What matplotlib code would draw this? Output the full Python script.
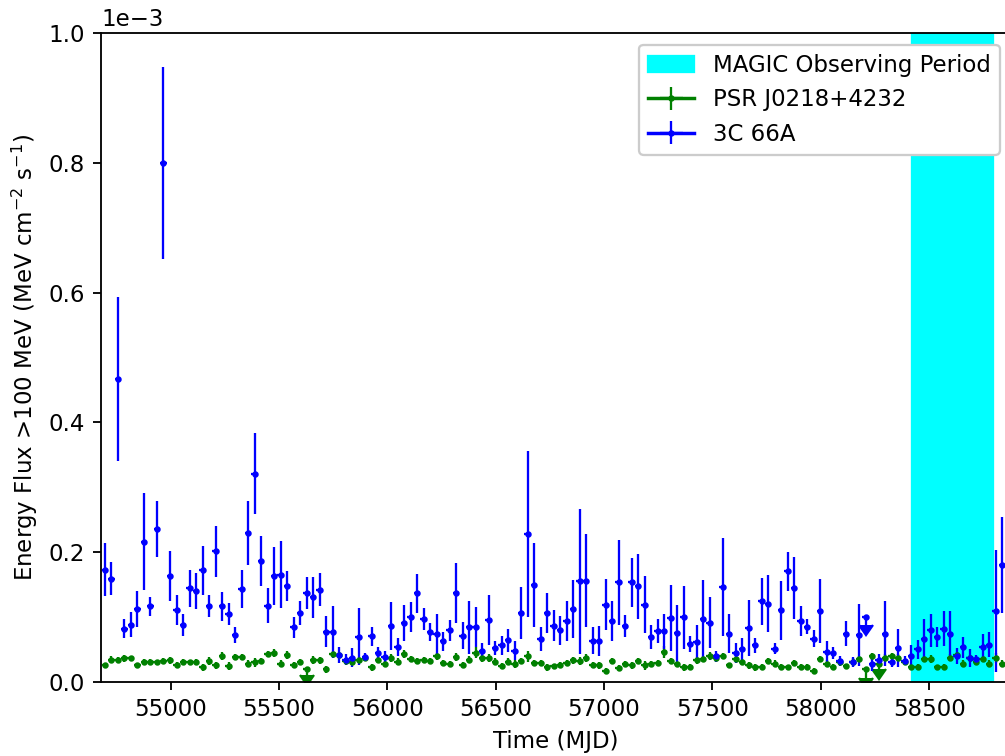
import numpy as np
import matplotlib
matplotlib.use("Agg")
import matplotlib.pyplot as plt

# 30 day bins (MJD of bin centre)
mjd = [54697, 54727, 54757, 54787, 54817, 54847, 54877, 54907, 54937, 54967,
       54997, 55027, 55057, 55087, 55117, 55147, 55177, 55207, 55237, 55267,
       55297, 55327, 55357, 55387, 55417, 55447, 55477, 55507, 55537, 55567,
       55597, 55627, 55657, 55687, 55717, 55747, 55777, 55807, 55837, 55867,
       55897, 55927, 55957, 55987, 56017, 56047, 56077, 56107, 56137, 56167,
       56197, 56227, 56257, 56287, 56317, 56347, 56377, 56407, 56437, 56467,
       56497, 56527, 56557, 56587, 56617, 56647, 56677, 56707, 56737, 56767,
       56797, 56827, 56857, 56887, 56917, 56947, 56977, 57007, 57037, 57067,
       57097, 57127, 57157, 57187, 57217, 57247, 57277, 57307, 57337, 57367,
       57397, 57427, 57457, 57487, 57517, 57547, 57577, 57607, 57637, 57667,
       57697, 57727, 57757, 57787, 57817, 57847, 57877, 57907, 57937, 57967,
       57997, 58027, 58057, 58087, 58117, 58147, 58177, 58207, 58237, 58267,
       58297, 58327, 58357, 58387, 58417, 58447, 58477, 58507, 58537, 58567,
       58597, 58627, 58657, 58687, 58717, 58747, 58777, 58807, 58837]
halfBin = 15  # days

# 3C 66A energy flux (1e-3 MeV cm-2 s-1) and 1 sigma errors
flux3c = [0.173, 0.159, 0.467, 0.082, 0.088, 0.112, 0.216, 0.116, 0.236, 0.800,
          0.163, 0.111, 0.087, 0.144, 0.140, 0.172, 0.117, 0.201, 0.116, 0.105,
          0.072, 0.143, 0.229, 0.321, 0.186, 0.117, 0.163, 0.165, 0.147, 0.084,
          0.106, 0.137, 0.130, 0.142, 0.077, 0.077, 0.041, 0.034, 0.037, 0.069,
          0.038, 0.070, 0.044, 0.038, 0.086, 0.053, 0.091, 0.100, 0.136, 0.096,
          0.076, 0.073, 0.062, 0.079, 0.137, 0.071, 0.084, 0.084, 0.048, 0.095,
          0.052, 0.056, 0.064, 0.048, 0.106, 0.227, 0.149, 0.066, 0.106, 0.086,
          0.079, 0.094, 0.112, 0.155, 0.156, 0.063, 0.063, 0.119, 0.094, 0.153,
          0.086, 0.153, 0.147, 0.119, 0.069, 0.078, 0.078, 0.098, 0.075, 0.099,
          0.058, 0.061, 0.097, 0.091, 0.039, 0.146, 0.074, 0.044, 0.050, 0.083,
          0.056, 0.124, 0.120, 0.051, 0.110, 0.170, 0.144, 0.094, 0.085, 0.066,
          0.109, 0.046, 0.044, 0.032, 0.074, 0.030, 0.072, 0.100, 0.028, 0.033,
          0.074, 0.031, 0.052, 0.032, 0.040, 0.050, 0.066, 0.079, 0.069, 0.082,
          0.074, 0.040, 0.053, 0.037, 0.035, 0.054, 0.057, 0.109, 0.180]
err3c = [0.041, 0.025, 0.127, 0.015, 0.019, 0.028, 0.075, 0.015, 0.043, 0.148,
         0.039, 0.023, 0.017, 0.029, 0.028, 0.038, 0.017, 0.039, 0.022, 0.017,
         0.012, 0.029, 0.049, 0.062, 0.039, 0.027, 0.045, 0.052, 0.023, 0.016,
         0.019, 0.025, 0.032, 0.026, 0.024, 0.040, 0.012, 0.009, 0.015, 0.044,
         0.006, 0.015, 0.009, 0.009, 0.037, 0.014, 0.028, 0.023, 0.030, 0.017,
         0.014, 0.031, 0.014, 0.016, 0.046, 0.021, 0.041, 0.031, 0.012, 0.039,
         0.011, 0.015, 0.018, 0.014, 0.040, 0.128, 0.065, 0.019, 0.031, 0.024,
         0.022, 0.031, 0.045, 0.112, 0.071, 0.021, 0.023, 0.040, 0.031, 0.066,
         0.017, 0.038, 0.050, 0.044, 0.019, 0.019, 0.027, 0.051, 0.044, 0.049,
         0.012, 0.026, 0.060, 0.039, 0.009, 0.075, 0.030, 0.015, 0.017, 0.043,
         0.012, 0.036, 0.044, 0.009, 0.046, 0.030, 0.048, 0.023, 0.012, 0.013,
         0.050, 0.016, 0.009, 0.008, 0.019, 0.008, 0.048, 0.013, 0.012, 0.010,
         0.050, 0.008, 0.030, 0.007, 0.017, 0.015, 0.030, 0.026, 0.015, 0.027,
         0.035, 0.012, 0.016, 0.014, 0.006, 0.019, 0.019, 0.094, 0.074]
ul3c = [117]  # bins with only an upper limit

# PSR J0218+4232
fluxPsr = [0.025, 0.034, 0.034, 0.036, 0.036, 0.025, 0.030, 0.031, 0.030, 0.032,
           0.033, 0.026, 0.030, 0.030, 0.030, 0.022, 0.032, 0.025, 0.040, 0.024,
           0.038, 0.038, 0.028, 0.030, 0.032, 0.043, 0.044, 0.028, 0.041, 0.026,
           0.030, 0.019, 0.034, 0.033, 0.019, 0.043, 0.041, 0.032, 0.031, 0.034,
           0.036, 0.022, 0.034, 0.027, 0.036, 0.031, 0.043, 0.035, 0.032, 0.034,
           0.032, 0.039, 0.029, 0.027, 0.038, 0.026, 0.034, 0.045, 0.036, 0.036,
           0.031, 0.024, 0.031, 0.027, 0.032, 0.039, 0.029, 0.029, 0.022, 0.024,
           0.026, 0.029, 0.033, 0.032, 0.037, 0.026, 0.025, 0.017, 0.032, 0.021,
           0.027, 0.025, 0.032, 0.025, 0.028, 0.029, 0.046, 0.032, 0.027, 0.022,
           0.023, 0.033, 0.035, 0.040, 0.036, 0.040, 0.025, 0.035, 0.031, 0.025,
           0.022, 0.023, 0.032, 0.028, 0.023, 0.022, 0.029, 0.023, 0.023, 0.017,
           0.035, 0.028, 0.023, 0.030, 0.024, 0.031, 0.035, 0.019, 0.039, 0.028,
           0.037, 0.040, 0.037, 0.030, 0.023, 0.023, 0.035, 0.035, 0.022, 0.023,
           0.037, 0.041, 0.028, 0.036, 0.031, 0.035, 0.028, 0.037, 0.028]
errPsr = [0.004, 0.005, 0.004, 0.005, 0.004, 0.004, 0.005, 0.004, 0.004, 0.005,
          0.005, 0.004, 0.005, 0.004, 0.005, 0.005, 0.006, 0.005, 0.006, 0.006,
          0.005, 0.004, 0.005, 0.007, 0.005, 0.005, 0.006, 0.005, 0.006, 0.005,
          0.005, 0.008, 0.006, 0.005, 0.005, 0.004, 0.004, 0.005, 0.005, 0.004,
          0.004, 0.005, 0.004, 0.005, 0.006, 0.005, 0.006, 0.005, 0.005, 0.004,
          0.004, 0.005, 0.005, 0.005, 0.006, 0.004, 0.005, 0.008, 0.006, 0.006,
          0.005, 0.005, 0.005, 0.006, 0.005, 0.008, 0.005, 0.005, 0.005, 0.004,
          0.004, 0.004, 0.005, 0.006, 0.006, 0.005, 0.005, 0.004, 0.005, 0.004,
          0.005, 0.006, 0.005, 0.007, 0.004, 0.005, 0.009, 0.005, 0.004, 0.005,
          0.004, 0.005, 0.004, 0.006, 0.005, 0.005, 0.004, 0.005, 0.004, 0.005,
          0.005, 0.004, 0.005, 0.005, 0.004, 0.004, 0.005, 0.004, 0.004, 0.004,
          0.005, 0.005, 0.004, 0.005, 0.004, 0.005, 0.005, 0.014, 0.006, 0.008,
          0.005, 0.004, 0.005, 0.005, 0.004, 0.004, 0.005, 0.006, 0.004, 0.004,
          0.005, 0.005, 0.005, 0.005, 0.006, 0.005, 0.005, 0.008, 0.005]
ulPsr = [31, 117, 119]

# MAGIC campaign (MJD)
magicStart = 58420
magicEnd = 58796

scale = 1e-3


def plotLightCurve(ax, flux, err, limits, color, label):
    # one errorbar per bin, only the first one goes in the legend
    for i in range(len(mjd)):
        ax.errorbar([mjd[i]], [flux[i]*scale], xerr=halfBin, yerr=err[i]*scale,
                    uplims=(i in limits), color=color, marker='o', ms=1.8,
                    elinewidth=1, label=label if i == 0 else None)


dpi = 165
fig = plt.figure(figsize=(1005/dpi, 756/dpi), dpi=dpi)
ax = fig.add_axes([0.1008, 0.0983, 0.9052, 0.8577])

ax.axvspan(magicStart, magicEnd, color='cyan', label='MAGIC Observing Period')
plotLightCurve(ax, fluxPsr, errPsr, ulPsr, 'green', 'PSR J0218+4232')
plotLightCurve(ax, flux3c, err3c, ul3c, 'blue', '3C 66A')

ax.set_xlim(54680, 58878)
ax.set_ylim(0, 1e-3)
ax.ticklabel_format(axis='y', style='sci', scilimits=(-3, -3))
ax.set_xlabel('Time (MJD)')
ax.set_ylabel(r'Energy Flux >100 MeV (MeV cm$^{-2}$ s$^{-1}$)')
ax.legend(loc='upper right', framealpha=1)

fig.savefig('out.png', dpi=dpi)
